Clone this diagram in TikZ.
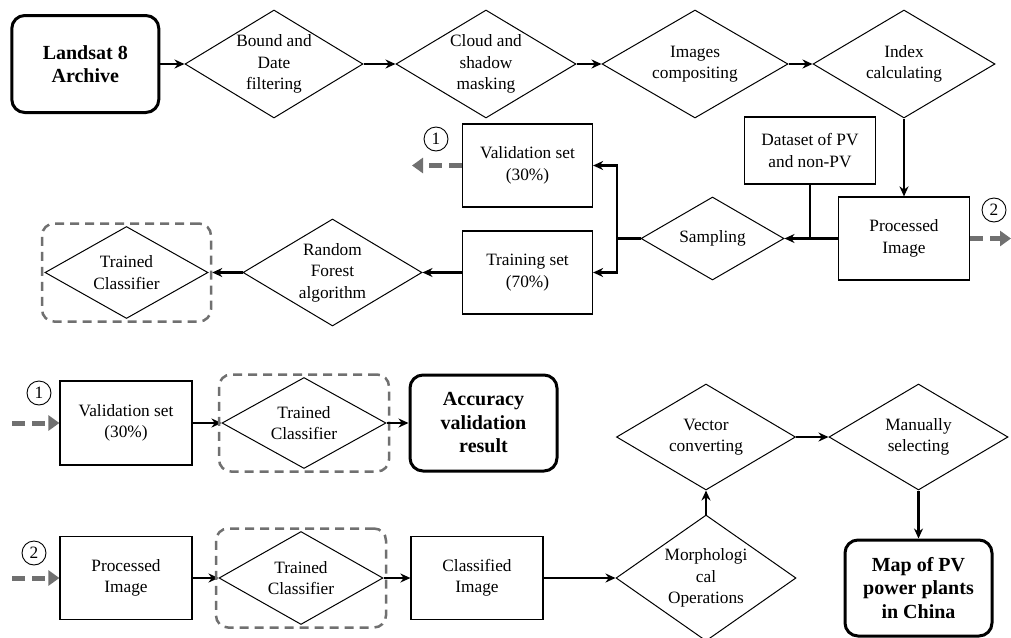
\documentclass[tikz,border=0pt]{standalone}
\usepackage{fontspec}
\setmainfont{Liberation Serif}
\usetikzlibrary{shapes.geometric,arrows.meta,fit}

\definecolor{dgray}{RGB}{112,112,112}

\tikzset{
	every node/.style={font=\fontsize{17.3pt}{21.5pt}\selectfont, align=center},
	dia/.style={diamond, draw, line width=1pt, shape aspect=1.7, inner sep=0pt},
	pbox/.style={rectangle, draw, line width=1.2pt, inner sep=0pt},
	bbox/.style={rectangle, draw, line width=3pt, rounded corners=13pt, inner sep=0pt, font=\fontsize{20pt}{23.5pt}\selectfont\bfseries},
	tcbox/.style={draw=dgray, line width=2.5pt, dash pattern=on 9pt off 6pt, rounded corners=12pt, inner sep=2.5pt},
	arr/.style={-{Stealth[length=10pt,width=9pt]}, line width=2.5pt},
	rarr/.style={{Stealth[length=10pt,width=9pt]}-, line width=2.5pt},
	thk/.style={line width=2.5pt},
	darr/.style={-{Triangle[length=11pt,width=15pt]}, draw=dgray, line width=5pt, dash pattern=on 13pt off 7pt},
	num/.style={circle, draw, line width=0.9pt, minimum size=24pt, inner sep=0pt}
}

\begin{document}
\begin{tikzpicture}[x=1pt, y=-1pt]
\useasboundingbox (0,0) rectangle (1011,637);

\node (lan) at (85.3,64) [bbox, minimum width=147pt, minimum height=97pt] {Landsat 8\\Archive};
	\node (bdf) at (274,64) [dia, minimum width=178pt, minimum height=108pt] {Bound and\\Date\\filtering} edge[rarr] (lan);
	\node (csm) at (486,64) [dia, minimum width=180pt, minimum height=108pt] {Cloud and\\shadow\\masking} edge[rarr] (bdf);
	\node (img) at (695,64) [dia, minimum width=186pt, minimum height=108pt] {Images\\compositing} edge[rarr] (csm);
	\node (idx) at (904,64) [dia, minimum width=182pt, minimum height=108pt] {Index\\calculating} edge[rarr] (img);

\node (pi1) at (904,238.5) [pbox, minimum width=131pt, minimum height=83pt] {Processed\\Image} edge[rarr] (idx);
	\node (ds) at (810,150.5) [pbox, minimum width=131pt, minimum height=67pt] {Dataset of PV\\and non-PV};
	\node (samp) at (712.5,238.5) [dia, minimum width=143pt, minimum height=83pt] {Sampling} edge[rarr] (pi1);
	\draw[thk] (ds) -- (ds |- samp);

	\node (val) at (527.5,165.5) [pbox, minimum width=130pt, minimum height=83pt] {Validation set\\(30\%)};
	\node (trn) at (527.5,272.5) [pbox, minimum width=130pt, minimum height=83pt] {Training set\\(70\%)};
	\coordinate (br) at (617,238.5);
	\draw[arr] (samp) -- (br) |- (val);
	\draw[arr] (br) |- (trn);

	\node (rf) at (332.5,272.5) [dia, minimum width=179pt, minimum height=107pt] {Random\\Forest\\algorithm} edge[rarr] (trn);
	\node (tc1) at (126.5,272.5) [dia, minimum width=163pt, minimum height=92pt] {Trained\\Classifier};
	\node (tc1f) [tcbox, fit=(tc1)] {};
	\draw[arr] (rf) -- (tc1f);

\node (c1) at (436,139) [num] {1};
	\coordinate (o1) at (412,165.5);
	\draw[darr] (val) -- (o1);
\node (c2) at (994,210) [num] {2};
	\coordinate (o2) at (1011,238.5);
	\draw[darr] (pi1) -- (o2);

\coordinate (i1) at (12,423);
	\node (c3) at (39,393) [num] {1};
	\node (val2) at (126,423) [pbox, minimum width=132pt, minimum height=84pt] {Validation set\\(30\%)};
	\draw[darr] (i1) -- (val2);
	\node (tc2) at (304,423) [dia, minimum width=164pt, minimum height=91pt] {Trained\\Classifier} edge[rarr] (val2);
	\node (tc2f) [tcbox, fit=(tc2)] {};
	\node (acc) at (483.5,423) [bbox, minimum width=147pt, minimum height=96pt] {Accuracy\\validation\\result};
	\draw[arr] (tc2) -- (acc);

\coordinate (i2) at (12,578);
	\node (c4) at (34,553) [num] {2};
	\node (pi2) at (126,578) [pbox, minimum width=132pt, minimum height=83pt] {Processed\\Image};
	\draw[darr] (i2) -- (pi2);
	\node (tc3) at (301,578) [dia, minimum width=164pt, minimum height=93pt] {Trained\\Classifier} edge[rarr] (pi2);
	\node (tc3f) [tcbox, fit=(tc3)] {};
	\node (cls) at (477,578) [pbox, minimum width=132pt, minimum height=83pt] {Classified\\Image} edge[rarr] (tc3);
	\node (mor) at (706,578) [dia, shape aspect=1.45, minimum width=180pt, minimum height=126pt] {Morphologi\\cal\\Operations} edge[rarr] (cls);
		\node (vec) at (706,437) [dia, minimum width=179pt, minimum height=106pt] {Vector\\converting} edge[rarr] (mor);
		\node (man) at (918.5,437) [dia, minimum width=179pt, minimum height=106pt] {Manually\\selecting} edge[rarr] (vec);
		\node (map) at (918.5,588) [bbox, minimum width=147pt, minimum height=96pt] {Map of PV\\power plants\\in China} edge[rarr] (man);
\end{tikzpicture}
\end{document}
